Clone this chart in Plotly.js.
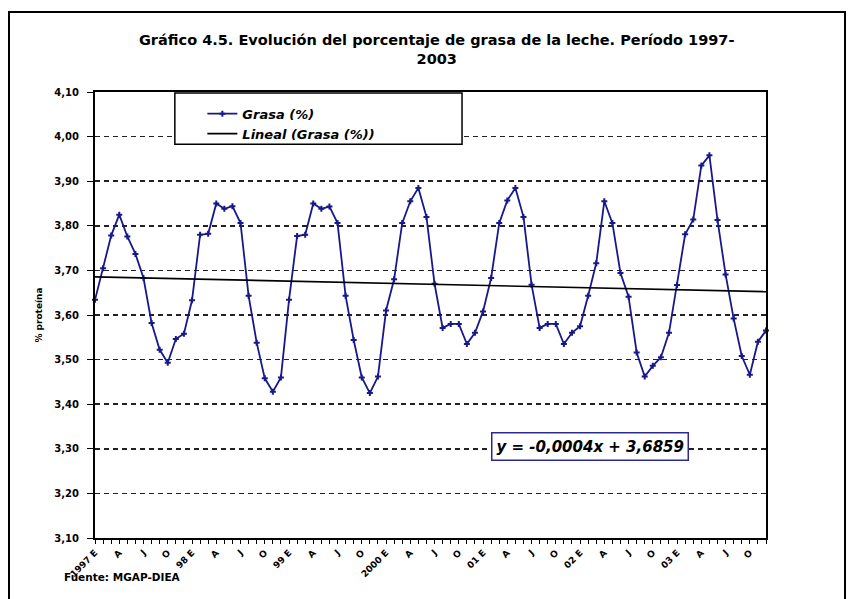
<!DOCTYPE html>
<html>
<head>
<meta charset="utf-8">
<script src="https://cdn.plot.ly/plotly-3.0.1.min.js"></script>
<style>
  body { margin: 0; background: #fff; }
  #chart { position: absolute; left: 0; top: 0; width: 853px; height: 599px; }
  #frame { position: absolute; left: 8px; top: 11px; width: 834px; height: 600px;
           border: 2px solid #000; pointer-events: none; }
</style>
</head>
<body>
<div id="chart"></div>
<div id="frame"></div>
<script>
// Monthly fat percentage, January to December of each year
let grasa1997 = [3.634, 3.705, 3.778, 3.825, 3.776, 3.737, 3.683, 3.582, 3.522, 3.493, 3.546, 3.558];
let grasa1998 = [3.633, 3.780, 3.782, 3.850, 3.838, 3.844, 3.806, 3.643, 3.538, 3.458, 3.428, 3.460];
let grasa1999 = [3.634, 3.777, 3.780, 3.850, 3.838, 3.843, 3.806, 3.643, 3.544, 3.460, 3.425, 3.462];
let grasa2000 = [3.610, 3.680, 3.806, 3.855, 3.885, 3.820, 3.670, 3.571, 3.580, 3.580, 3.535, 3.560];
let grasa2001 = [3.608, 3.683, 3.806, 3.857, 3.885, 3.820, 3.668, 3.571, 3.580, 3.580, 3.535, 3.560];
let grasa2002 = [3.575, 3.643, 3.716, 3.855, 3.806, 3.694, 3.641, 3.516, 3.462, 3.486, 3.505, 3.560];
let grasa2003 = [3.667, 3.781, 3.814, 3.935, 3.958, 3.813, 3.691, 3.592, 3.508, 3.466, 3.540, 3.565];

// Linear trend read at first and last month
let trendX = [1, 84];
let trendY = [3.6855, 3.6523];

// Labels shown every third month
let tickLabels = [
  "1997 E", "A", "J", "O", "98 E", "A", "J", "O", "99 E", "A", "J", "O",
  "2000 E", "A", "J", "O", "01 E", "A", "J", "O", "02 E", "A", "J", "O",
  "03 E", "A", "J", "O"
];

let font = "DejaVu Sans, Verdana, sans-serif";

function init() {
  let grasa = [].concat(grasa1997, grasa1998, grasa1999, grasa2000, grasa2001, grasa2002, grasa2003);
  let months = [];
  let tickText = [];
  for (let i = 0; i < grasa.length; i++) {
    months.push(i + 1);
    tickText.push(i % 3 === 0 ? tickLabels[i / 3] : "");
  }

  let traces = [{
    x: months,
    y: grasa,
    name: "<i>Grasa (%)</i>",
    mode: "lines+markers",
    line: { color: "#18188a", width: 1.8 },
    marker: { symbol: "cross", size: 5, color: "#18188a" },
    cliponaxis: false
  }, {
    x: trendX,
    y: trendY,
    name: "<i>Lineal (Grasa (%))</i>",
    mode: "lines",
    line: { color: "#000", width: 1.7 }
  }];

  let layout = {
    width: 853,
    height: 599,
    margin: { l: 95, r: 87, t: 92, b: 61 },
    paper_bgcolor: "rgba(0,0,0,0)",
    plot_bgcolor: "#fff",
    font: { family: font, color: "#000", size: 10, weight: "bold" },
    showlegend: true,
    title: {
      text: "Gráfico 4.5. Evolución del porcentaje de grasa de la leche. Período 1997-<br>2003",
      font: { family: font, size: 14.5, weight: "bold", color: "#000" },
      x: 0.512, xanchor: "center",
      y: 0.925, yanchor: "top", yref: "container"
    },
    xaxis: {
      range: [1, 84],
      tickmode: "array",
      tickvals: months,
      ticktext: tickText,
      tickangle: -45,
      ticks: "outside",
      ticklen: 4,
      tickcolor: "#000",
      tickfont: { family: font, size: 9, weight: "bold" },
      showgrid: false,
      zeroline: false,
      showline: true,
      linecolor: "#000",
      linewidth: 2,
      mirror: true
    },
    yaxis: {
      range: [3.10, 4.10],
      dtick: 0.1,
      tick0: 3.1,
      tickformat: ".2f",
      ticks: "outside",
      ticklen: 6,
      tickcolor: "#000",
      ticklabelstandoff: 6,
      tickfont: { family: font, size: 10, weight: "bold" },
      showgrid: true,
      gridcolor: "#222",
      gridwidth: 1.5,
      griddash: "5px,4px",
      zeroline: false,
      showline: true,
      linecolor: "#000",
      linewidth: 2,
      mirror: true,
      title: {
        text: "% proteína",
        font: { family: font, size: 9, weight: "bold" },
        standoff: 10
      }
    },
    separators: ",.",
    legend: {
      x: 0.16, xanchor: "left",
      y: 0.985, yanchor: "top",
      bgcolor: "rgba(0,0,0,0)",
      borderwidth: 0,
      font: { family: font, size: 13, weight: "bold" }
    },
    shapes: [{
      type: "rect", xref: "paper", yref: "paper", layer: "above",
      x0: 0.119, x1: 0.547, y0: 0.883, y1: 0.998,
      line: { color: "#000", width: 1.5 },
      fillcolor: "#fff"
    }],
    annotations: [{
      text: "<i>y = -0,0004x + 3,6859</i>",
      xref: "paper", yref: "paper",
      x: 0.738, y: 0.205, xanchor: "center", yanchor: "middle",
      showarrow: false,
      font: { family: font, size: 15, weight: "bold", color: "#000" },
      bgcolor: "#fff",
      bordercolor: "#2a2a90",
      borderwidth: 1.5,
      borderpad: 4
    }, {
      text: "Fuente: MGAP-DIEA",
      xref: "paper", yref: "paper",
      x: -0.049, y: -0.087, xanchor: "left", yanchor: "middle",
      showarrow: false,
      font: { family: font, size: 10.5, weight: "bold", color: "#000" }
    }]
  };

  Plotly.newPlot("chart", traces, layout, { displayModeBar: false, staticPlot: true });
}

window.onload = init;
</script>
</body>
</html>
